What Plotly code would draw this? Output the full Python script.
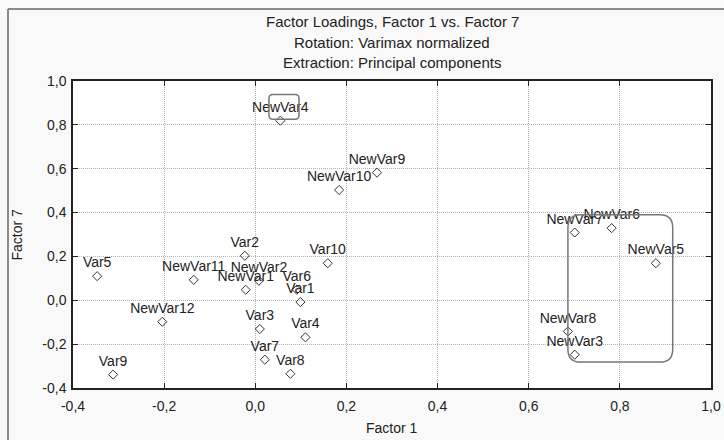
import plotly.graph_objects as go

# ---- data ----
var_names = ["NewVar4", "NewVar9", "NewVar10", "Var2", "Var10", "Var5", "NewVar11",
             "NewVar2", "NewVar1", "Var6", "Var1", "Var3", "Var4", "NewVar12",
             "Var7", "Var8", "Var9", "NewVar7", "NewVar6", "NewVar5", "NewVar8", "NewVar3"]
factor1 = [0.055, 0.267, 0.184, -0.023, 0.159, -0.347, -0.135,
           0.008, -0.021, 0.091, 0.099, 0.010, 0.110, -0.204,
           0.021, 0.077, -0.312, 0.701, 0.782, 0.879, 0.686, 0.701]
factor7 = [0.819, 0.582, 0.503, 0.203, 0.169, 0.110, 0.093,
           0.089, 0.048, 0.048, -0.008, -0.131, -0.169, -0.098,
           -0.271, -0.335, -0.339, 0.309, 0.329, 0.169, -0.142, -0.248]

tick_vals = [-0.4, -0.2, 0.0, 0.2, 0.4, 0.6, 0.8, 1.0]
tick_text = ["-0,4", "-0,2", "0,0", "0,2", "0,4", "0,6", "0,8", "1,0"]

title_lines = ["Factor Loadings, Factor 1 vs. Factor 7",
               "Rotation: Varimax normalized",
               "Extraction: Principal components"]
x_title = "Factor 1"
y_title = "Factor 7"

# highlight boxes (x0, x1, y0, y1, rx, ry)
box_small = [0.030, 0.096, 0.826, 0.939, 0.009, 0.018]
box_large = [0.686, 0.916, -0.282, 0.390, 0.0285, 0.059]

FONT = "Liberation Sans, Arial, sans-serif"

# plot area in pixels: left 73, right 711, top 81, bottom 388
PL, PR, PT, PB = 73, 711, 81, 388
PW, PH = PR - PL, PB - PT


def px_x(px):
    return (px - PL) / PW


def px_y(py):
    return (PB - py) / PH


def rounded_path(b):
    x0, x1, y0, y1, rx, ry = b
    return (f"M {x0+rx},{y1} L {x1-rx},{y1} Q {x1},{y1} {x1},{y1-ry} "
            f"L {x1},{y0+ry} Q {x1},{y0} {x1-rx},{y0} L {x0+rx},{y0} "
            f"Q {x0},{y0} {x0},{y0+ry} L {x0},{y1-ry} Q {x0},{y1} {x0+rx},{y1} Z")


fig = go.Figure()
fig.add_trace(go.Scatter(
    x=factor1, y=factor7, mode="markers+text", text=var_names,
    textposition="top center",
    textfont=dict(family=FONT, size=14, color="#222"),
    marker=dict(symbol="diamond-open", size=7, color="#333", line=dict(width=1)),
    cliponaxis=False, hoverinfo="skip", showlegend=False,
))

shapes = [
    dict(type="path", xref="x", yref="y", path=rounded_path(box_small),
         line=dict(color="#777", width=1.5)),
    dict(type="path", xref="x", yref="y", path=rounded_path(box_large),
         line=dict(color="#777", width=1.5)),
    # outer frame (top and left)
    dict(type="line", xref="paper", yref="paper", x0=px_x(8), x1=px_x(730), y0=px_y(9), y1=px_y(9),
         line=dict(color="#666", width=1.5)),
    dict(type="line", xref="paper", yref="paper", x0=px_x(8), x1=px_x(8), y0=px_y(445), y1=px_y(9),
         line=dict(color="#666", width=1.5)),
]

annotations = []
for t, py in zip(title_lines, [22, 43, 63]):
    annotations.append(dict(text=t, xref="paper", yref="paper", x=0.5,
                            y=px_y(py), xanchor="center", yanchor="middle",
                            showarrow=False, font=dict(family=FONT, size=15, color="#222")))
annotations.append(dict(text=x_title, xref="paper", yref="paper", x=0.5, y=px_y(428),
                        xanchor="center", yanchor="middle", showarrow=False,
                        font=dict(family=FONT, size=14, color="#222")))
annotations.append(dict(text=y_title, xref="paper", yref="paper", x=px_x(16), y=0.5,
                        xanchor="center", yanchor="middle", showarrow=False, textangle=-90,
                        font=dict(family=FONT, size=14, color="#222")))

axis_common = dict(
    range=[-0.4, 1.0], tickvals=tick_vals, ticktext=tick_text,
    showgrid=True, gridcolor="#b4b4b4", griddash="1px,1px", gridwidth=1,
    showline=True, linecolor="#222", linewidth=1.5, mirror="allticks",
    ticks="inside", ticklen=5, tickcolor="#222", zeroline=False,
    automargin=False,
    tickfont=dict(family=FONT, size=14, color="#222"),
)

fig.update_layout(
    width=724, height=440,
    margin=dict(l=PL, r=724 - PR, t=PT, b=440 - PB, autoexpand=False),
    paper_bgcolor="#f9f9f9", plot_bgcolor="white",
    xaxis=dict(axis_common, ticklabelstandoff=4),
    yaxis=dict(axis_common, ticklabelstandoff=2),
    shapes=shapes, annotations=annotations,
)

fig.write_html("out.html", config={"displayModeBar": False},
               post_script="document.body.style.margin='0';document.body.style.overflow='hidden';")
